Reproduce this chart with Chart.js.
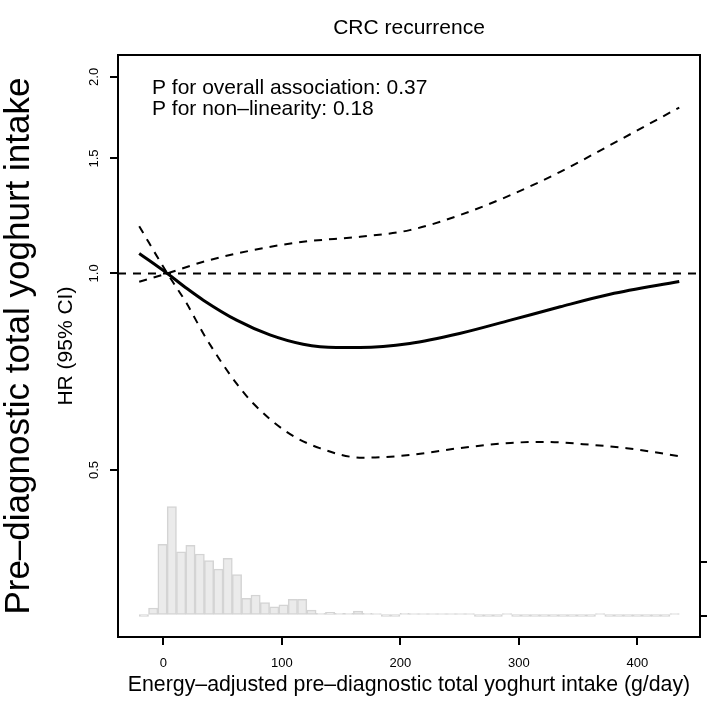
<!DOCTYPE html>
<html>
<head>
<meta charset="utf-8">
<script src="https://cdn.jsdelivr.net/npm/chart.js@4"></script>
<style>
  html, body { margin: 0; padding: 0; background: #fff; }
  .chart-wrapper { width: 707px; height: 705px; }
</style>
</head>
<body>
<div class="chart-wrapper"><canvas id="myChart"></canvas></div>
<script>
// spline estimate (HR) and 95% CI
const xHR = [-20.3, 3.4, 20, 33.8, 61.9, 90, 118, 146, 166, 208, 250, 293, 335, 377, 435.4];
const hr = [1.073, 1.0, 0.948, 0.910, 0.848, 0.805, 0.779, 0.770, 0.770, 0.781, 0.809, 0.848, 0.889, 0.929, 0.972];

const xUpper = [-20.3, 3.4, 33.8, 76, 118, 166, 208, 250, 293, 335, 377, 435.4];
const upper = [0.971, 1.0, 1.042, 1.086, 1.118, 1.138, 1.165, 1.228, 1.318, 1.431, 1.572, 1.795];

const xLower = [-20.3, 3.4, 19.7, 33.8, 47.8, 61.9, 76, 104, 132, 168, 208, 250, 293, 321, 363, 391, 435.4];
const lower = [1.181, 1.0, 0.900, 0.809, 0.737, 0.678, 0.632, 0.572, 0.540, 0.522, 0.527, 0.540, 0.550, 0.552, 0.546, 0.540, 0.525];

// histogram of intake (counts per bin)
const histStart = -20.3;
const histWidth = 7.857;
const histCounts = [0, 7, 66, 101, 59, 65, 57, 51, 43, 53, 38, 16, 19, 12, 8, 10, 15, 15, 5, 2,
                    3, 2, 2, 4, 2, 1, 0, 0, 2, 1, 1, 1, 1, 1, 1, 1, 0, 0, 0, 1,
                    0, 0, 0, 0, 0, 0, 0, 0, 0, 1, 0, 0, 0, 0, 0, 0, 0, 1];

const xTicks = [0, 100, 200, 300, 400];
const yTicks = [0.5, 1.0, 1.5, 2.0];
const countTicks = [0, 50];
const refHR = 1;

const xRange = [-38.2, 452.9];
const yRange = [0.2774, 2.159];
const countRange = [-19.9, 519];

const chartTitle = 'CRC recurrence';
const xTitle = 'Energy–adjusted pre–diagnostic total yoghurt intake (g/day)';
const yTitle = 'HR (95% CI)';
const outerTitle = 'Pre–diagnostic total yoghurt intake';
const pLines = ['P for overall association: 0.37', 'P for non–linearity: 0.18'];

const FONT = "'Liberation Sans', Arial, Helvetica, sans-serif";
Chart.defaults.font.family = FONT;
Chart.defaults.color = '#000';

const toPoints = (xs, ys) => xs.map((x, i) => ({x: x, y: ys[i]}));
const histPoints = histCounts.map((c, i) => ({x: histStart + (i + 0.5) * histWidth, y: c}));

const pValues = {
    id: 'pValues',
    afterDatasetsDraw(chart) {
        const {ctx, chartArea} = chart;
        ctx.save();
        ctx.font = '21px ' + FONT;
        ctx.fillStyle = '#000';
        ctx.textBaseline = 'alphabetic';
        pLines.forEach((t, i) => ctx.fillText(t, chartArea.left + 34, chartArea.top + 38.5 + i * 21));
        ctx.restore();
    }
};

const setTicks = (values, range) => (scale) => {
    scale.ticks = values.map(v => ({value: v}));
    scale.min = range[0];
    scale.max = range[1];
};

const dashed = [8, 7];

const config = {
    type: 'line',
    data: {
        datasets: [
            {
                label: 'HR',
                data: toPoints(xHR, hr),
                borderColor: '#000',
                borderWidth: 3,
                pointRadius: 0,
                cubicInterpolationMode: 'monotone',
                fill: false,
                order: 1
            },
            {
                label: 'upper',
                data: toPoints(xUpper, upper),
                borderColor: '#000',
                borderWidth: 2,
                borderDash: dashed,
                pointRadius: 0,
                cubicInterpolationMode: 'monotone',
                fill: false,
                order: 2
            },
            {
                label: 'lower',
                data: toPoints(xLower, lower),
                borderColor: '#000',
                borderWidth: 2,
                borderDash: dashed,
                pointRadius: 0,
                cubicInterpolationMode: 'monotone',
                fill: false,
                order: 3
            },
            {
                label: 'ref',
                data: [{x: xRange[0], y: refHR}, {x: xRange[1], y: refHR}],
                borderColor: '#000',
                borderWidth: 2,
                borderDash: dashed,
                pointRadius: 0,
                fill: false,
                order: 4
            },
            {
                type: 'bar',
                label: 'hist',
                data: histPoints,
                yAxisID: 'y2',
                backgroundColor: 'rgb(235,235,235)',
                borderColor: 'rgb(212,212,212)',
                borderWidth: 1.5,
                borderSkipped: false,
                minBarLength: 2,
                barPercentage: 1,
                categoryPercentage: 1,
                order: 10
            }
        ]
    },
    options: {
        responsive: true,
        maintainAspectRatio: false,
        animation: false,
        layout: { padding: 0 },
        plugins: {
            legend: { display: false },
            tooltip: { enabled: false },
            title: {
                display: true,
                text: chartTitle,
                fullSize: false,
                color: '#000',
                font: { size: 21, weight: 'normal', lineHeight: 1.2 },
                padding: { top: 16, bottom: 14 }
            }
        },
        scales: {
            x: {
                type: 'linear',
                position: 'bottom',
                offset: false,
                min: xRange[0],
                max: xRange[1],
                afterBuildTicks: setTicks(xTicks, xRange),
                afterFit: (s) => { s.height = 68; },
                border: { display: true, color: '#000', width: 2 },
                grid: { drawOnChartArea: false, offset: false, color: '#000', lineWidth: 2, tickLength: 8 },
                ticks: { font: { size: 13 }, padding: 11, maxRotation: 0, callback: (v) => String(v) },
                title: { display: true, text: xTitle, font: { size: 21.3 }, padding: { top: 0, bottom: 7 } }
            },
            x2: {
                type: 'linear',
                position: 'top',
                afterFit: (s) => { s.height = 0; },
                border: { display: true, color: '#000', width: 2 },
                grid: { display: false, drawTicks: false },
                ticks: { display: false }
            },
            y: {
                type: 'logarithmic',
                position: 'left',
                weight: 0,
                min: yRange[0],
                max: yRange[1],
                afterBuildTicks: setTicks(yTicks, yRange),
                afterFit: (s) => { s.width = 74; },
                border: { display: true, color: '#000', width: 2 },
                grid: { drawOnChartArea: false, color: '#000', lineWidth: 2, tickLength: 8 },
                ticks: {
                    font: { size: 13 },
                    padding: 7,
                    minRotation: 90,
                    maxRotation: 90,
                    crossAlign: 'center',
                    callback: (v) => Number(v).toFixed(1)
                },
                title: { display: true, text: yTitle, font: { size: 21 }, padding: { top: 10, bottom: 0 } }
            },
            yOuter: {
                type: 'linear',
                position: 'left',
                weight: 5,
                afterFit: (s) => { s.width = 44; },
                border: { display: false },
                grid: { display: false, drawTicks: false },
                ticks: { display: false },
                title: { display: true, text: outerTitle, font: { size: 35, lineHeight: 1.0 }, padding: { top: 1.5, bottom: 0 } }
            },
            y2: {
                type: 'linear',
                position: 'right',
                min: countRange[0],
                max: countRange[1],
                afterBuildTicks: setTicks(countTicks, countRange),
                afterFit: (s) => { s.width = 7; },
                border: { display: true, color: '#000', width: 2 },
                grid: { drawOnChartArea: false, color: '#000', lineWidth: 2, tickLength: 7 },
                ticks: { display: false }
            }
        }
    },
    plugins: [pValues]
};

const myChart = new Chart(document.getElementById('myChart'), config);
</script>
</body>
</html>
